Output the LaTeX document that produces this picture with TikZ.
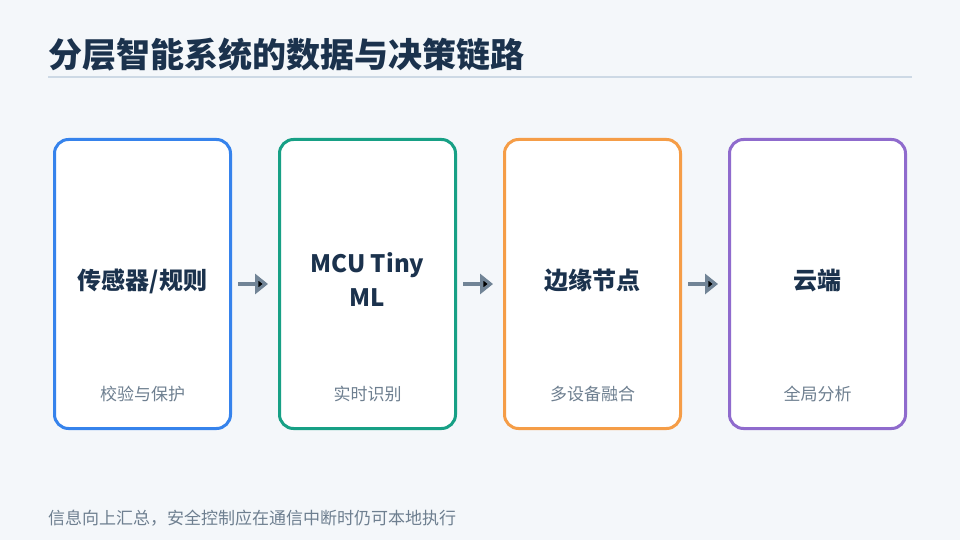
\documentclass[tikz,border=0pt]{standalone}
\usepackage{fontspec}
\setmainfont{Noto Sans CJK SC}
\usetikzlibrary{arrows.meta,positioning}
\definecolor{bg}{HTML}{F4F7FA}
\definecolor{ink}{HTML}{1B324D}
\definecolor{muted}{HTML}{6E7F90}
\definecolor{rulec}{HTML}{CDD9E5}
\definecolor{arrowc}{HTML}{718496}
\definecolor{cblue}{HTML}{3683EC}
\definecolor{cgreen}{HTML}{17A085}
\definecolor{corange}{HTML}{F59D47}
\definecolor{cpurple}{HTML}{8F6BCD}

\begin{document}
\begin{tikzpicture}[x=1pt,y=-1pt,node distance=49pt,
  heading/.style={text=ink,font=\fontsize{34}{40}\selectfont\bfseries,inner sep=0pt},
  layer/.style={draw,line width=3pt,rounded corners=14pt,fill=white,minimum width=176pt,minimum height=289pt,outer sep=0pt,text=ink,text depth=9pt,font=\fontsize{24}{34}\selectfont\bfseries,align=center},
  sub/.style={text=muted,font=\fontsize{17}{20}\selectfont},
  flow/.style={-{Triangle[length=13pt,width=20pt]},draw=arrowc,line width=3.5pt,shorten <=7.5pt,shorten >=11.5pt}]
\fill[bg] (0,0) rectangle (960,540);
\node[heading,anchor=west] (title) at (48,55) {分层智能系统的数据与决策链路};
\draw[rulec,line width=2pt] (48,77) -- (912,77);
\node[layer,draw=cblue] (sensor) at (142.5,284) {传感器/规则};
\node[layer,draw=cgreen,right=of sensor] (mcu) {MCU Tiny\\ML};
\node[layer,draw=corange,right=of mcu] (gateway) {边缘节点};
\node[layer,draw=cpurple,right=of gateway] (cloud) {云端};
\node[sub] (sensorsub) at ([yshift=34.5pt]sensor.south) {校验与保护};
\node[sub] (mcusub) at ([yshift=34.5pt]mcu.south) {实时识别};
\node[sub] (gatewaysub) at ([yshift=34.5pt]gateway.south) {多设备融合};
\node[sub] (cloudsub) at ([yshift=34.5pt]cloud.south) {全局分析};
\path[flow] (sensor) edge (mcu)
(mcu) edge (gateway)
(gateway) edge (cloud);
\node[sub,anchor=west,inner sep=0pt] (note) at (48,518) {信息向上汇总，安全控制应在通信中断时仍可本地执行};
\end{tikzpicture}
\end{document}
